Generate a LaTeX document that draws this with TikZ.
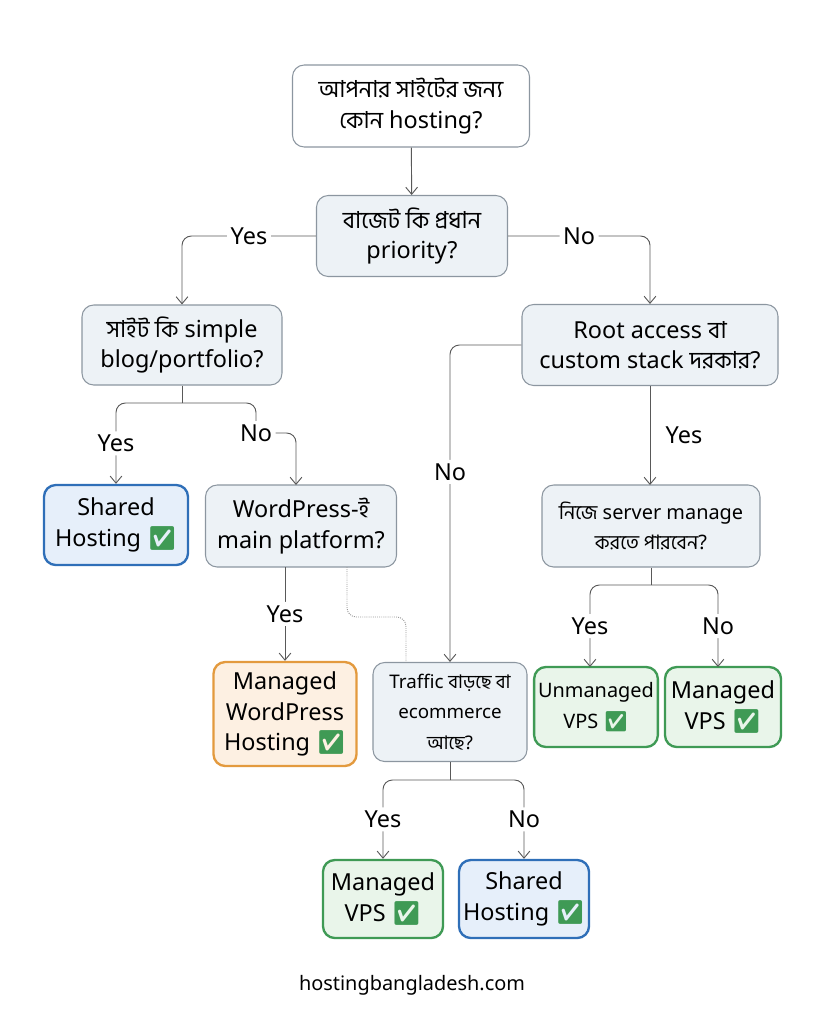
\documentclass[tikz,border=0pt]{standalone}
\usepackage{fontspec}
\setmainfont{Noto Sans}
\newfontfamily\bn[Script=Bengali]{Hind Siliguri}
\newfontfamily\emo{Noto Emoji}
\usetikzlibrary{positioning,arrows.meta}
\definecolor{qfill}{HTML}{EDF2F6}
\definecolor{qline}{HTML}{8C96A0}
\definecolor{bluefill}{HTML}{E6EFFA}
\definecolor{blueline}{HTML}{2F6FB8}
\definecolor{orfill}{HTML}{FDF0E2}
\definecolor{orline}{HTML}{E39A3E}
\definecolor{grfill}{HTML}{E9F5EA}
\definecolor{grline}{HTML}{3F9A55}
\newcommand{\ok}{{\color{grline}\emo ✅}}
\tikzset{
  box/.style={rectangle, rounded corners=10pt, align=center, line width=0.9pt,
    font=\fontsize{20}{26}\selectfont},
  question/.style={box, draw=qline, fill=qfill},
  sharedbox/.style={box, draw=blueline, fill=bluefill, line width=2pt},
  wpbox/.style={box, draw=orline, fill=orfill, line width=2pt},
  vpsbox/.style={box, draw=grline, fill=grfill, line width=2pt},
  lbl/.style={fill=white, inner sep=3pt, font=\fontsize{20}{24}\selectfont},
  link/.style={draw=black!65, line width=0.8pt, rounded corners=8pt},
  arr/.style={link, -{Straight Barb[length=6pt,width=10pt]}}
}
\begin{document}
\begin{tikzpicture}[x=0.03cm, y=-0.03cm]
    \useasboundingbox (0,0) rectangle (825,1024);

    \node[box, draw=qline, fill=white, minimum width=237*0.03cm, minimum height=82*0.03cm] (start) at (411,106) {{\bn আপনার সাইটের জন্য}\\{\bn কোন} hosting?};
    \node[question, minimum width=191*0.03cm, minimum height=81*0.03cm] (budget) at (412,236) {{\bn বাজেট কি প্রধান}\\priority?};
    \node[question, minimum width=200*0.03cm, minimum height=80*0.03cm] (simple) at (182,345) {{\bn সাইট কি} simple\\blog/portfolio?};
    \node[question, minimum width=256*0.03cm, minimum height=81*0.03cm] (root) at (650,345) {Root access {\bn বা}\\custom stack {\bn দরকার}?};
    \node[sharedbox, minimum width=144*0.03cm, minimum height=80*0.03cm] (shared1) at (116,525) {Shared\\Hosting \ok};
    \node[question, minimum width=191*0.03cm, minimum height=82*0.03cm] (wp) at (301,526) {WordPress-{\bn ই}\\main platform?};
    \node[question, minimum width=218*0.03cm, minimum height=82*0.03cm, font=\fontsize{17}{26}\selectfont] (manage) at (651,526) {{\bn নিজে} server manage\\{\bn করতে পারবেন}?};
    \node[wpbox, minimum width=143*0.03cm, minimum height=104*0.03cm] (mwp) at (285,714) {Managed\\WordPress\\Hosting \ok};
    \node[question, minimum width=154*0.03cm, minimum height=99*0.03cm, font=\fontsize{16}{26}\selectfont] (traffic) at (450,712) {Traffic {\bn বাড়ছে বা}\\ecommerce\\{\bn আছে}?};
    \node[vpsbox, minimum width=122*0.03cm, minimum height=80*0.03cm, font=\fontsize{17}{26}\selectfont] (umvps) at (596,707) {Unmanaged\\VPS \ok};
    \node[vpsbox, minimum width=116*0.03cm, minimum height=80*0.03cm] (mvps1) at (723,707) {Managed\\VPS \ok};
    \node[vpsbox, minimum width=120*0.03cm, minimum height=78*0.03cm] (mvps2) at (383,899) {Managed\\VPS \ok};
    \node[sharedbox, minimum width=130*0.03cm, minimum height=78*0.03cm] (shared2) at (524,899) {Shared\\Hosting \ok};
    \node[font=\fontsize{17}{20}\selectfont] (site) at (412,985) {hostingbangladesh.com};

    % top
    \draw[arr] (start) -- (budget);
    \draw[arr] (budget.west) -| node[lbl, pos=0.25] {Yes} (simple.north);
    \draw[arr] (budget.east) -| node[lbl, pos=0.25] {No} (root.north);

    % left branch
    \coordinate (sj) at (182,403);
    \draw[link] (simple.south) -- (sj);
    \draw[arr] (sj) -| node[lbl, pos=0.75] {Yes} (shared1.north);
    \draw[link] (sj) -| (256,425);
    \node[lbl] (nolbl) at (256,433) {No};
    \draw[arr] (nolbl.east) -| (296,485);
    \draw[arr] (285,567) -- node[lbl] {Yes} (mwp.north);
    \draw[link, densely dotted, black!40] (347,567) |- (406,617) -- (406,663);

    % right branch
    \draw[arr] (root.west) -| node[lbl, pos=0.7] {No} (traffic.north);
    \draw[arr] (root.south) -- node[lbl, right=10pt, fill=none] {Yes} (650,485);
    \coordinate (mj) at (651,585);
    \draw[link] (manage.south) -- (mj);
    \draw[arr] (mj) -| node[lbl, pos=0.75] {Yes} (590,667);
    \draw[arr] (mj) -| node[lbl, pos=0.75] {No} (718,667);

    % bottom
    \coordinate (tj) at (450,780);
    \draw[link] (traffic.south) -- (tj);
    \draw[arr] (tj) -| node[lbl, pos=0.75] {Yes} (mvps2.north);
    \draw[arr] (tj) -| node[lbl, pos=0.75] {No} (shared2.north);
\end{tikzpicture}
\end{document}
